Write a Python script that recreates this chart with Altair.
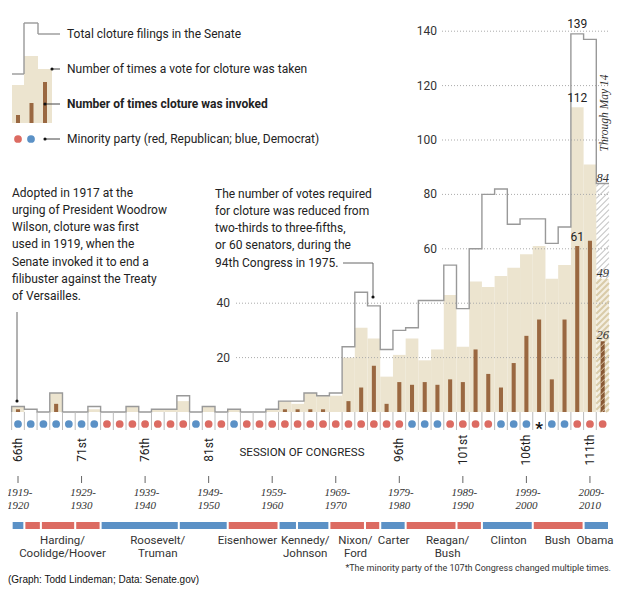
import altair as alt
import pandas as pd

# ---------------- data ----------------
congress = list(range(66, 113))
filed = [2, 1, 0, 7, 0, 0, 2, 0, 0, 2,
         0, 1, 1, 6, 0, 2, 0, 1, 0, 0,
         1, 4, 4, 7, 6, 7, 24, 44, 39, 23,
         30, 31, 41, 41, 54, 38, 60, 80, 82, 69,
         71, 71, 62, 68, 139, 137, 84]
votes = [2, 0, 0, 7, 0, 0, 1, 0, 0, 2,
         0, 1, 1, 4, 0, 2, 0, 1, 0, 0,
         1, 4, 3, 7, 6, 6, 20, 31, 27, 13,
         21, 27, 19, 23, 43, 24, 48, 46, 50, 53,
         58, 61, 49, 54, 112, 91, 49]
invoked = [1, 0, 0, 3, 0, 0, 0, 0, 0, 0,
           0, 0, 0, 0, 0, 0, 0, 0, 0, 0,
           0, 1, 1, 1, 1, 0, 4, 9, 17, 3,
           11, 10, 11, 10, 12, 11, 23, 14, 9, 18,
           28, 34, 12, 34, 61, 63, 26]
minority = list("DDDDDDD" "RRRRRRR" "D" "RR" "D" "RRRRRRRRRRRRR" "DDD" "RRRR" "DDD" "*" "DD" "RRR")

label_congress = [66, 71, 76, 81, 96, 101, 106, 111]
label_text = ["66th", "71st", "76th", "81st", "96th", "101st", "106th", "111th"]
year_congress = [66, 71, 76, 81, 86, 91, 96, 101, 106, 111]
year_top = ["1919-", "1929-", "1939-", "1949-", "1959-", "1969-", "1979-", "1989-", "1999-", "2009-"]
year_bottom = ["1920", "1930", "1940", "1950", "1960", "1970", "1980", "1990", "2000", "2010"]

grid_vals = [20, 40, 60, 80, 100, 120, 140]

pres_start = [1919, 1921, 1923.6, 1929, 1933, 1945.3, 1953, 1961, 1963.9, 1969, 1974.6,
              1977, 1981, 1989, 1993, 2001, 2009]
pres_end = [1921, 1923.6, 1929, 1933, 1945.3, 1953, 1961, 1963.9, 1969, 1974.6, 1977,
            1981, 1989, 1993, 2001, 2009, 2013]
pres_party = ["D", "R", "R", "R", "D", "D", "R", "D", "D", "R", "R", "D", "R", "R", "D", "R", "D"]
pres_line1 = ["Harding/", "Roosevelt/", "Eisenhower", "Kennedy/", "Nixon/", "Carter",
              "Reagan/", "Clinton", "Bush", "Obama"]
pres_line2 = ["Coolidge/Hoover", "Truman", "", "Johnson", "Ford", "", "Bush", "", "", ""]
pres_label_year = [1927, 1942, 1956.1, 1965.2, 1973.1, 1979.1, 1987.6, 1997.2, 2004.9, 2010.8]

# ---------------- layout constants ----------------
W, H = 606, 578
PXC, PXY = 12.71, 2.72          # pixels per congress / per filing
C0 = 66 - 10 / PXC
C1 = C0 + W / PXC
Y1 = 404 / PXY
Y0 = -(H - 404) / PXY

SANS = "Roboto"
SERIF = "Liberation Serif"
BEIGE = "#ece4cf"
BROWN = "#9a6841"
RED = "#dc6b62"
BLUE = "#5b91c6"
GREY = "#999999"
TXT = "#222222"

xs = alt.Scale(domain=[C0, C1], nice=False, zero=False)
ys = alt.Scale(domain=[Y0, Y1], nice=False, zero=False)


def X(f):
    return alt.X(f"{f}:Q", scale=xs, axis=None)


def Y(f):
    return alt.Y(f"{f}:Q", scale=ys, axis=None)


def cx(page_x):
    return C0 + (page_x - 8) / PXC


def ypos(year):
    return 65.5 + (year - 1919) / 2


one = pd.DataFrame({"k": [0]})

df = pd.DataFrame({"c": congress, "filed": filed, "votes": votes, "inv": invoked, "party": minority})
df["lo"] = df.c - 0.5
df["hi"] = df.c + 0.5
df["blo"] = df.c - 0.16
df["bhi"] = df.c + 0.16
df["zero"] = 0
regular = df[df.c < 112]
last = df[df.c == 112]

layers = []

# beige: votes taken
layers.append(alt.Chart(regular).mark_rect(color=BEIGE).encode(
    x=X("lo"), x2="hi", y=Y("zero"), y2="votes"))


def hatch(x_lo, x_hi, y_lo, y_hi, step=6.0):
    Wp = (x_hi - x_lo) * PXC
    Hp = (y_hi - y_lo) * PXY
    segs = []
    t = -Wp + step / 2
    while t < Hp:
        u0 = max(0.0, -t)
        u1 = min(Wp, Hp - t)
        if u1 > u0:
            segs.append(dict(x=x_lo + u0 / PXC, y=y_lo + (u0 + t) / PXY,
                             x2=x_lo + u1 / PXC, y2=y_lo + (u1 + t) / PXY))
        t += step
    return pd.DataFrame(segs)


lastc = int(last.c.iloc[0])
lf, lv, li = float(last.filed.iloc[0]), float(last.votes.iloc[0]), float(last.inv.iloc[0])

# 112th congress (partial) hatched
layers.append(alt.Chart(hatch(lastc - 0.5, lastc + 0.5, lv, lf)).mark_rule(
    color="#c8c8c8", strokeWidth=1.1).encode(x=X("x"), y=Y("y"), x2="x2", y2="y2"))
layers.append(alt.Chart(last).mark_rect(color="#f4efe2").encode(
    x=X("lo"), x2="hi", y=Y("zero"), y2="votes"))
layers.append(alt.Chart(hatch(lastc - 0.5, lastc + 0.5, 0, lv)).mark_rule(
    color="#d9cba8", strokeWidth=2).encode(x=X("x"), y=Y("y"), x2="x2", y2="y2"))

# grid lines
gdf = pd.DataFrame({"v": grid_vals})
gdf["xs"] = [cx(236) if v <= 40 else cx(442) for v in grid_vals]
gdf["xe"] = cx(610)
layers.append(alt.Chart(gdf).mark_rule(color="#aaaaaa", strokeWidth=1, strokeDash=[1, 2]).encode(
    x=X("xs"), x2="xe", y=Y("v")))
layers.append(alt.Chart(gdf[gdf.v <= 40]).mark_text(
    align="right", baseline="middle", font=SANS, fontSize=12, color="#333").encode(
    x=alt.value(230 - 8), y=Y("v"), text="v:N"))
layers.append(alt.Chart(gdf[gdf.v > 40]).mark_text(
    align="right", baseline="middle", font=SANS, fontSize=12, color="#333").encode(
    x=alt.value(437 - 8), y=Y("v"), text="v:N"))

# invoked bars
layers.append(alt.Chart(regular[regular.inv > 0]).mark_rect(color=BROWN).encode(
    x=X("blo"), x2="bhi", y=Y("zero"), y2="inv"))
layers.append(alt.Chart(last).mark_rect(color="#8a5a36").encode(
    x=X("blo"), x2="bhi", y=Y("zero"), y2="inv"))
layers.append(alt.Chart(hatch(lastc - 0.16, lastc + 0.16, 0, li)).mark_rule(
    color="#dcc6a6", strokeWidth=1).encode(x=X("x"), y=Y("y"), x2="x2", y2="y2"))

# total filings step outline
pts = [dict(i=0, x=66 - 0.5, y=0)]
for c, f in zip(congress, filed):
    pts.append(dict(i=len(pts), x=c - 0.5, y=f))
    pts.append(dict(i=len(pts), x=c + 0.5, y=f))
layers.append(alt.Chart(pd.DataFrame(pts)).mark_line(color=GREY, strokeWidth=1.4).encode(
    x=X("x"), y=Y("y"), order="i:Q"))

# cell separators
sep = pd.DataFrame({"b": [c - 0.5 for c in congress], "zero": 0})
layers.append(alt.Chart(sep).mark_rule(color="#bbbbbb", strokeWidth=1).encode(
    x=X("b"), y=Y("zero"), y2=alt.value(430 - 8)))

# minority dots
dots = df[df.party != "*"]
layers.append(alt.Chart(dots).mark_circle(size=60, opacity=1).encode(
    x=X("c"), y=alt.value(424 - 8),
    color=alt.Color("party:N", scale=alt.Scale(domain=["R", "D"], range=[RED, BLUE]), legend=None)))
layers.append(alt.Chart(df[df.party == "*"]).mark_text(
    text="*", font=SANS, fontSize=17, fontWeight="bold", color="#111", baseline="middle").encode(
    x=X("c"), y=alt.value(429 - 8)))

# value labels
vl = pd.DataFrame({"c": [110, 110, 110], "v": [filed[44], votes[44], invoked[44]]})
vl["t"] = vl.v.astype(str)
layers.append(alt.Chart(vl).mark_text(
    font=SANS, fontSize=12, color=TXT, baseline="alphabetic", dy=-5.5).encode(
    x=X("c"), y=Y("v"), text="t:N"))
il = pd.DataFrame({"c": [112, 112, 112], "v": [lf, lv, li]})
il["t"] = il.v.astype(int).astype(str)
layers.append(alt.Chart(il).mark_text(
    font=SERIF, fontStyle="italic", fontSize=12.5, color="#333", baseline="alphabetic", dy=-2).encode(
    x=X("c"), y=Y("v"), text="t:N"))
layers.append(alt.Chart(one).mark_text(
    text="Through May 14", font=SERIF, fontStyle="italic", fontSize=11.5, color="#333",
    angle=270, align="center", baseline="middle").encode(
    x=alt.value(605 - 8), y=alt.value(113 - 8)))

# congress labels, ticks, years
cl = pd.DataFrame({"c": label_congress, "t": label_text})
layers.append(alt.Chart(cl).mark_text(
    font=SANS, fontSize=12, color=TXT, angle=270, align="center", baseline="middle").encode(
    x=X("c"), y=alt.value(450 - 8), text="t:N"))
layers.append(alt.Chart(one).mark_text(
    text="SESSION OF CONGRESS", font=SANS, fontSize=11.5, color=TXT,
    align="center", baseline="middle").encode(x=alt.value(302 - 8), y=alt.value(453 - 8)))
yl = pd.DataFrame({"c": year_congress, "a": year_top, "b": year_bottom})
layers.append(alt.Chart(yl).mark_rule(color="#666", strokeWidth=1).encode(
    x=X("c"), y=alt.value(476 - 8), y2=alt.value(483 - 8)))
layers.append(alt.Chart(yl).mark_text(
    font=SERIF, fontStyle="italic", fontSize=11, color="#333", baseline="middle", dx=1.5).encode(
    x=X("c"), y=alt.value(493 - 8), text="a:N"))
layers.append(alt.Chart(yl).mark_text(
    font=SERIF, fontStyle="italic", fontSize=11, color="#333", baseline="middle").encode(
    x=X("c"), y=alt.value(506 - 8), text="b:N"))

# presidents bar
pdf = pd.DataFrame({"s": pres_start, "e": pres_end, "p": pres_party})
pdf["x0"] = [ypos(s) + 0.08 for s in pres_start]
pdf["x1"] = [ypos(e) - 0.08 for e in pres_end]
layers.append(alt.Chart(pdf).mark_rect().encode(
    x=X("x0"), x2="x1", y=alt.value(522 - 8), y2=alt.value(529 - 8),
    color=alt.Color("p:N", scale=alt.Scale(domain=["R", "D"], range=[RED, BLUE]), legend=None)))
pl = pd.DataFrame({"x": [ypos(y) for y in pres_label_year], "a": pres_line1, "b": pres_line2})
layers.append(alt.Chart(pl).mark_text(
    font=SANS, fontSize=11.5, color="#333", baseline="middle").encode(
    x=X("x"), y=alt.value(541 - 8), text="a:N"))
layers.append(alt.Chart(pl).mark_text(
    font=SANS, fontSize=11.5, color="#333", baseline="middle").encode(
    x=X("x"), y=alt.value(554 - 8), text="b:N"))

# footnote & credit
layers.append(alt.Chart(one).mark_text(
    text="*The minority party of the 107th Congress changed multiple times.",
    font="Liberation Sans Narrow, Roboto", fontSize=9, color="#333", align="right", baseline="middle").encode(
    x=alt.value(611 - 8), y=alt.value(568 - 8)))
layers.append(alt.Chart(one).mark_text(
    text="(Graph: Todd Lindeman; Data: Senate.gov)",
    font="Liberation Sans", fontSize=10, color="#111", align="left", baseline="middle").encode(
    x=alt.value(0), y=alt.value(580 - 8)))

# annotations
ann1 = ["Adopted in 1917 at the", "urging of President Woodrow", "Wilson, cloture was first",
        "used in 1919, when the", "Senate invoked it to end a", "filibuster against the Treaty",
        "of Versailles."]
ann2 = ["The number of votes required", "for cloture was reduced from", "two-thirds to three-fifths,",
        "or 60 senators, during the", "94th Congress in 1975."]
layers.append(alt.Chart(one).mark_text(
    text=ann1, font=SANS, fontSize=12, color=TXT, align="left", baseline="alphabetic",
    lineHeight=17.3).encode(x=alt.value(12 - 8), y=alt.value(196.5 - 8)))
layers.append(alt.Chart(one).mark_text(
    text=ann2, font=SANS, fontSize=12, color=TXT, align="left", baseline="alphabetic",
    lineHeight=17.3).encode(x=alt.value(215 - 8), y=alt.value(197.5 - 8)))


def seg(x1, y1, x2, y2, color="#666", w=1):
    return alt.Chart(one).mark_rule(color=color, strokeWidth=w).encode(
        x=alt.value(x1 - 8), y=alt.value(y1 - 8), x2=alt.value(x2 - 8), y2=alt.value(y2 - 8))


def dot(x, y, color="#111", size=10):
    return alt.Chart(one).mark_circle(color=color, size=size, opacity=1).encode(
        x=alt.value(x - 8), y=alt.value(y - 8))


def box(x1, y1, x2, y2, color):
    return alt.Chart(one).mark_rect(color=color).encode(
        x=alt.value(x1 - 8), y=alt.value(y1 - 8), x2=alt.value(x2 - 8), y2=alt.value(y2 - 8))


layers += [seg(17, 312, 17, 401), dot(17, 401)]
layers += [seg(343, 263, 373, 263), seg(373, 263, 373, 297), dot(373, 297)]

# legend
layers += [box(12, 85, 24, 123, BEIGE), box(24, 56, 38, 123, BEIGE), box(38, 69, 52, 123, BEIGE)]
layers += [box(16, 115, 20, 123, BROWN), box(29.5, 103, 33.5, 123, BROWN), box(43, 82, 47, 123, BROWN)]
layers += [seg(12, 74, 24, 74, GREY, 1.4), seg(24, 74, 24, 23, GREY, 1.4), seg(24, 23, 38, 23, GREY, 1.4),
           seg(38, 23, 38, 34, GREY, 1.4), seg(38, 34, 60, 34, GREY, 1.4)]
layers += [seg(52, 69, 60, 69, "#444"), dot(52, 69), seg(45, 104, 60, 104, "#444"), dot(45, 104),
           seg(45, 139, 60, 139, "#444"), dot(45, 139)]
layers += [dot(18, 139, RED, 60), dot(31, 139, BLUE, 60)]
leg_text = [("Total cloture filings in the Senate", 34, "normal"),
            ("Number of times a vote for cloture was taken", 69, "normal"),
            ("Number of times cloture was invoked", 104, "bold"),
            ("Minority party (red, Republican; blue, Democrat)", 139, "normal")]
for t, yy, wgt in leg_text:
    layers.append(alt.Chart(one).mark_text(
        text=t, font=SANS, fontSize=12, fontWeight=wgt, color=TXT, align="left", baseline="middle").encode(
        x=alt.value(67 - 8), y=alt.value(yy - 8)))

chart = alt.layer(*layers).properties(
    width=W, height=H, autosize=alt.AutoSizeParams(type="none"), padding=0, background="white"
).configure_view(stroke=None)

chart.save("out.html", embed_options={"renderer": "svg", "actions": False})
